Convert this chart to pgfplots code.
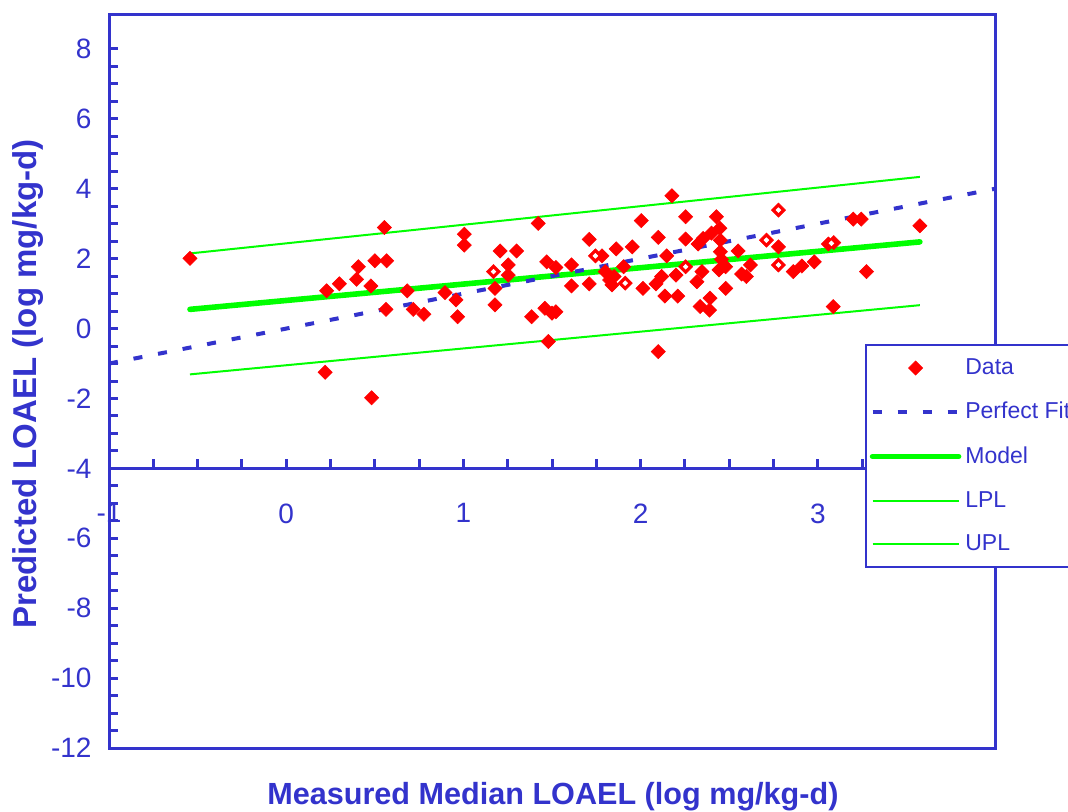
\documentclass[border=0pt]{standalone}
\usepackage{pgfplots}
\pgfplotsset{compat=1.18}
\usepackage{fontspec}
\setmainfont{Liberation Sans}
\definecolor{axisblue}{RGB}{51,51,204}
\definecolor{limegreen}{RGB}{0,255,0}

\begin{document}
\begin{tikzpicture}
% x axis line sits at y=-4: separate axis whose bottom edge is y=-4
\begin{axis}[
    at={(0pt,0pt)}, anchor=north west,
    scale only axis, width=443pt, height=227.19pt,
    xmin=-1, xmax=4, ymin=-4, ymax=9,
    hide y axis,
    xtick={-1,0,...,4}, xticklabels={-1,0,1,2,3,{}},
    minor x tick num=3,
    xtick pos=bottom, tick align=inside,
    major tick length=4.5pt, minor tick length=4.5pt,
    axis line style={draw=axisblue, line width=1.5pt},
    tick style={draw=axisblue, line width=1.5pt},
    /pgf/number format/assume math mode=true,
    xticklabel style={font=\fontsize{14}{16}\selectfont, text=axisblue, yshift=-14pt},
]
\end{axis}

\begin{axis}[
    name=main, at={(0pt,0pt)}, anchor=north west,
    scale only axis, width=443pt, height=367pt,
    xmin=-1, xmax=4, ymin=-12, ymax=9,
    xtick=\empty,
    ytick={-12,-10,...,8}, minor y tick num=3,
    ytick pos=left, tick align=inside,
    major tick length=4.5pt, minor tick length=4.5pt,
    axis line style={draw=axisblue, line width=1.5pt},
    tick style={draw=axisblue, line width=1.5pt},
    /pgf/number format/assume math mode=true,
    yticklabel style={font=\fontsize{14}{16}\selectfont, text=axisblue, xshift=-5.2pt},
    xlabel={Measured Median LOAEL (log mg/kg-d)},
    ylabel={Predicted LOAEL (log mg/kg-d)},
    xlabel style={font=\bfseries\fontsize{15.3}{18}\selectfont, text=axisblue,
        at={(axis description cs:0.501,-0.0668)}, anchor=center},
    ylabel style={font=\bfseries\fontsize{16.5}{19}\selectfont, text=axisblue,
        at={(axis description cs:-0.0914,0.496)}, anchor=center},
    legend style={at={(0.853,0.5504)}, anchor=north west, draw=axisblue, line width=1pt,
        fill=white, font=\fontsize{11.5}{13.5}\selectfont, text=axisblue,
        inner xsep=2pt, inner ysep=4.8pt, row sep=8.4pt},
    legend cell align=left,
    legend image code/.code={\draw[mark repeat=2,mark phase=2,#1]
        plot coordinates {(0pt,0pt) (21.5pt,0pt) (43pt,0pt)};},
    reverse legend,
]
\addplot[limegreen, line width=1pt] coordinates {(-0.543,2.15) (3.576,4.34)};
\addlegendentry{UPL}
\addplot[limegreen, line width=1pt] coordinates {(-0.543,-1.31) (3.576,0.67)};
\addlegendentry{LPL}
\addplot[limegreen, line width=2.8pt, line cap=round] coordinates {(-0.543,0.55) (3.576,2.48)};
\addlegendentry{Model}
\addplot[axisblue, line width=2pt, dash pattern=on 4.5pt off 8pt] coordinates {(-1,-1) (4,4)};
\addlegendentry{Perfect Fit}
\addplot[red, only marks, mark=square*, mark size=2.5pt,
    mark options={rotate=45, fill=red, draw=red, line width=0.3pt, solid}] coordinates {
(-0.543,2.01) (0.554,2.89) (1.005,2.70) (1.005,2.39) (0.407,1.77) (0.397,1.41)
(0.50,1.94) (0.567,1.94) (0.30,1.28) (0.228,1.08) (0.478,1.22) (0.683,1.08)
(0.563,0.55) (0.717,0.55) (0.777,0.41) (0.896,1.03) (0.958,0.82) (0.967,0.34)
(1.178,1.15) (1.178,0.68) (1.17,1.63) (0.22,-1.25) (0.482,-1.98) (1.207,2.22)
(1.30,2.22) (1.253,1.82) (1.253,1.53) (1.422,3.01) (1.385,0.34) (1.479,-0.37)
(1.46,0.58) (1.50,0.44) (1.522,0.48) (1.47,1.91) (1.522,1.75) (1.61,1.82)
(1.61,1.22) (1.71,2.55) (1.71,1.28) (1.745,2.08) (1.782,2.08) (1.80,1.63)
(1.825,1.39) (1.85,1.49) (1.862,2.28) (1.904,1.77) (1.913,1.30) (1.838,1.25)
(1.953,2.34) (2.004,3.09) (2.013,1.15) (2.10,2.61) (2.10,-0.66) (2.087,1.28)
(2.119,1.49) (2.147,2.08) (2.137,0.93) (2.177,3.80) (2.20,1.53) (2.21,0.93)
(2.254,3.20) (2.254,2.56) (2.254,1.77) (2.325,2.42) (2.353,2.58) (2.318,1.34)
(2.346,1.63) (2.336,0.63) (2.392,0.87) (2.389,0.53) (2.40,2.73) (2.428,3.20)
(2.447,2.87) (2.45,2.53) (2.45,2.20) (2.456,1.98) (2.443,1.68) (2.48,1.77)
(2.48,1.15) (2.55,2.22) (2.57,1.56) (2.597,1.49) (2.62,1.82) (2.71,2.53)
(2.778,2.34) (2.778,3.39) (2.778,1.82) (2.862,1.63) (2.91,1.79) (2.98,1.91)
(3.06,2.42) (3.09,2.46) (3.20,3.13) (3.245,3.13) (3.576,2.94) (3.275,1.63)
(3.087,0.63)
};
\addlegendentry{Data}
% white centres of the overlapping markers
\addplot[forget plot, only marks, mark=square*, mark size=0.8pt,
    mark options={rotate=45, fill=white, draw=white, solid}] coordinates {
(1.17,1.63) (1.745,2.08) (1.913,1.30) (2.254,1.77) (2.71,2.53) (2.778,3.39)
(2.778,1.82) (3.077,2.44)
};
\end{axis}
\pgfresetboundingbox
\path[use as bounding box] (-54.5pt,7pt) rectangle (479.5pt,-398.5pt);
\end{tikzpicture}
\end{document}
